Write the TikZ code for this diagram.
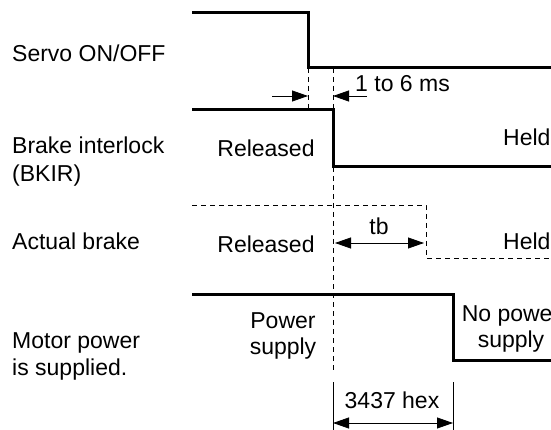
\documentclass[tikz,border=0pt]{standalone}
\usepackage{fontspec}
\setmainfont{Liberation Sans}
\usetikzlibrary{arrows.meta}

\begin{document}
\begin{tikzpicture}[x=1pt,y=-1pt,
  lbl/.style={inner sep=0pt,font=\fontsize{23}{27.5}\selectfont,align=left},
  clbl/.style={inner sep=0pt,font=\fontsize{23}{26}\selectfont,align=center},
  sig/.style={line width=3pt},
  guide/.style={line width=0.8pt,dash pattern=on 5pt off 4pt},
  dim/.style={line width=0.8pt,-{Triangle[length=16pt,width=11pt]}},
  ddim/.style={line width=0.8pt,{Triangle[length=16pt,width=11pt]}-{Triangle[length=16pt,width=11pt]}}]
\useasboundingbox (0,0) rectangle (551,430);
% signal names
\node[lbl,anchor=north west] (servo) at (12,45) {Servo ON/OFF};
\node[lbl,anchor=north west] (bkir) at (12,137) {Brake interlock\\(BKIR)};
\node[lbl,anchor=north west] (brake) at (12,233) {Actual brake};
\node[lbl,anchor=north west] (motor) at (12,332) {Motor power\\is supplied.};
% waveforms
\draw[sig] (192,13) -- (308,13) -- (308,68) -- (556,68);
\draw[sig] (192,110) -- (333,110) -- (333,167) -- (556,167);
\draw[guide] (192,205) -- (426,205) -- (426,258) -- (556,258);
\draw[sig] (192,294) -- (453,294) -- (453,360) -- (556,360);
% states
\node[lbl,anchor=base] (rel1) at (266,157) {Released};
\node[lbl,anchor=base west] (held1) at (503,146) {Held};
\node[lbl,anchor=base] (rel2) at (266,252) {Released};
\node[lbl,anchor=base west] (held2) at (503,250) {Held};
\node[clbl,anchor=north] (pwr) at (283,312) {Power\\supply};
\node[clbl,anchor=north] (nopwr) at (511,305) {No power\\supply};
% timing guides
\coordinate (off) at (308,68);
\coordinate (bk) at (333,68);
\draw[guide] (off) -- (308,110);
\draw[guide] (bk) -- (333,370);
\coordinate (a1) at (272,96);
\coordinate (a2) at (308,96);
\coordinate (a3) at (333,96);
\coordinate (a4) at (367,96);
\draw[dim] (a1) -- (a2);
\draw[dim] (a4) -- (a3);
\node[lbl,anchor=base west] (ms) at (355,92) {1 to 6 ms};
\coordinate (tb1) at (335,243);
\coordinate (tb2) at (424,243);
\draw[ddim] (tb1) -- (tb2);
\node[lbl,anchor=base] (tb) at (379,235) {tb};
\coordinate (h1) at (333,382);
\coordinate (h2) at (453,382);
\draw[line width=0.8pt] (h1) -- ++(0,48);
\draw[line width=0.8pt] (h2) -- ++(0,48);
\draw[ddim] ([yshift=-41pt]h1) -- ([yshift=-41pt]h2);
\node[lbl,anchor=base] (hex) at (392,408) {3437 hex};
\end{tikzpicture}
\end{document}
